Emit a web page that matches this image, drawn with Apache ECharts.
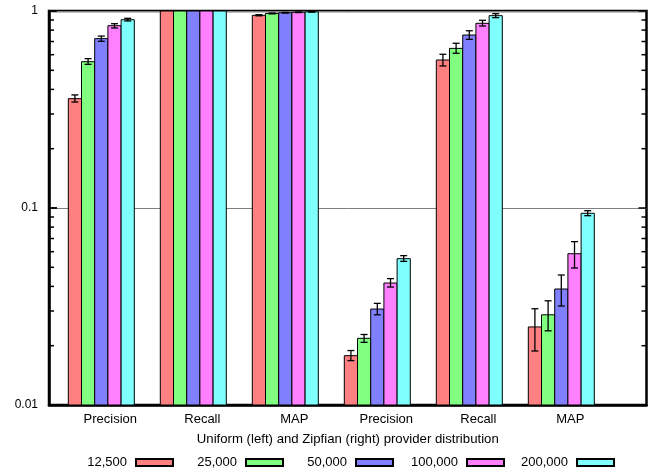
<!DOCTYPE html>
<html>
<head>
<meta charset="utf-8">
<script src="https://cdn.jsdelivr.net/npm/echarts@6/dist/echarts.min.js"></script>
<style>
  html, body { margin: 0; padding: 0; background: #fff; }
  #chart { width: 659px; height: 473px; }
</style>
</head>
<body>
<div id="chart"></div>
<script>
// Metric groups along the x axis: Uniform (left three) and Zipfian (right three)
const categories = ['Precision', 'Recall', 'MAP', 'Precision', 'Recall', 'MAP'];

// Number of providers per series
const seriesNames = ['12,500', '25,000', '50,000', '100,000', '200,000'];
const seriesColors = ['#ff8080', '#80ff80', '#8080ff', '#ff80ff', '#80ffff'];

// Mean values per group, for each series
const values12500  = [0.359, 1.0, 0.951, 0.0178, 0.564, 0.0249];
const values25000  = [0.553, 1.0, 0.972, 0.0218, 0.646, 0.0287];
const values50000  = [0.724, 1.0, 0.980, 0.0307, 0.755, 0.0388];
const values100000 = [0.842, 1.0, 0.985, 0.0416, 0.866, 0.0586];
const values200000 = [0.903, 1.0, 0.990, 0.0553, 0.947, 0.0940];

// Error bar bounds (low / high) per group, for each series
const low12500   = [0.345, 1.0, 0.945, 0.0168, 0.526, 0.0188];
const high12500  = [0.375, 1.0, 0.958, 0.0189, 0.603, 0.0308];
const low25000   = [0.536, 1.0, 0.967, 0.0208, 0.610, 0.0238];
const high25000  = [0.573, 1.0, 0.977, 0.0228, 0.686, 0.0338];
const low50000   = [0.702, 1.0, 0.976, 0.0287, 0.718, 0.0318];
const high50000  = [0.746, 1.0, 0.984, 0.0328, 0.794, 0.0457];
const low100000  = [0.820, 1.0, 0.982, 0.0397, 0.839, 0.0496];
const high100000 = [0.862, 1.0, 0.988, 0.0438, 0.897, 0.0675];
const low200000  = [0.890, 1.0, 0.987, 0.0536, 0.925, 0.0914];
const high200000 = [0.918, 1.0, 0.993, 0.0573, 0.969, 0.0969];

// Y axis tick labels; major and minor tick positions
const yTickLabels = ['0.01', '0.1', '1'];
const yMajorTicks = [0.01, 0.1, 1];
const yMinorTicks = [0.02, 0.03, 0.04, 0.05, 0.06, 0.07, 0.08, 0.09,
                     0.2, 0.3, 0.4, 0.5, 0.6, 0.7, 0.8, 0.9];

const allValues = [values12500, values25000, values50000, values100000, values200000];
const allLow = [low12500, low25000, low50000, low100000, low200000];
const allHigh = [high12500, high25000, high50000, high100000, high200000];

const Y_MIN = 0.01, Y_MAX = 1;
const X_MIN = -0.5685, X_MAX = 5.926;
const BAR_W = 0.1435;          // width of one bar in group units
const LABEL_SHIFT = 0.098;     // group label sits slightly right of the cluster centre
const CAP = 3.5;               // half width of error bar caps, px
const MINOR_LEN = 5;           // minor tick length, px
const MAJOR_LEN = 8;           // major tick length, px

function makeRenderer(k) {
  return function (params, api) {
    const g = api.value(0), v = api.value(1), lo = api.value(2), hi = api.value(3);
    const x0 = g + (k - 2.5) * BAR_W;
    const x1 = x0 + BAR_W;
    const pTop = api.coord([x0, v]);
    const pBase = api.coord([x1, Y_MIN]);
    const children = [{
      type: 'rect',
      shape: { x: pTop[0], y: pTop[1], width: pBase[0] - pTop[0], height: pBase[1] - pTop[1] },
      style: { fill: seriesColors[k], stroke: '#000', lineWidth: 1 }
    }];
    if (hi > lo) {
      const cx = (pTop[0] + pBase[0]) / 2;
      const yHi = api.coord([g, hi])[1];
      const yLo = api.coord([g, lo])[1];
      const es = { stroke: '#000', lineWidth: 1.3 };
      children.push(
        { type: 'polyline', shape: { points: [[cx, yHi], [cx, yLo]] }, style: es },
        { type: 'polyline', shape: { points: [[cx - CAP, yHi], [cx + CAP, yHi]] }, style: es },
        { type: 'polyline', shape: { points: [[cx - CAP, yLo], [cx + CAP, yLo]] }, style: es }
      );
    }
    return { type: 'group', children: children };
  };
}

const series = seriesNames.map(function (name, k) {
  return {
    name: name,
    type: 'custom',
    clip: true,
    itemStyle: { color: seriesColors[k], borderColor: '#000', borderWidth: 1 },
    encode: { x: 0, y: 1 },
    renderItem: makeRenderer(k),
    data: categories.map(function (c, i) {
      return [i, allValues[k][i], allLow[k][i], allHigh[k][i]];
    })
  };
});

// Log ticks pointing inward from the left edge of the frame
series.push({
  name: 'ticks-left',
  type: 'custom',
  silent: true,
  clip: false,
  z: 5,
  encode: { x: 0, y: 1 },
  renderItem: function (params, api) {
    const p = api.coord([X_MIN, api.value(1)]);
    return { type: 'polyline', shape: { points: [[p[0], p[1]], [p[0] + api.value(2), p[1]]] },
             style: { stroke: '#000', lineWidth: 1.5 } };
  },
  data: yMinorTicks.map(function (v) { return [0, v, MINOR_LEN]; })
    .concat(yMajorTicks.map(function (v) { return [0, v, MAJOR_LEN]; }))
});

// Log ticks pointing inward from the right edge of the frame
series.push({
  name: 'ticks-right',
  type: 'custom',
  silent: true,
  clip: false,
  z: 5,
  encode: { x: 0, y: 1 },
  renderItem: function (params, api) {
    const p = api.coord([X_MAX, api.value(1)]);
    return { type: 'polyline', shape: { points: [[p[0] - api.value(2), p[1]], [p[0], p[1]]] },
             style: { stroke: '#000', lineWidth: 1.5 } };
  },
  data: yMinorTicks.map(function (v) { return [0, v, MINOR_LEN]; })
    .concat(yMajorTicks.map(function (v) { return [0, v, MAJOR_LEN]; }))
});

// One legend block per series: label text followed by the swatch
const swatchRight = [174, 284, 394, 505, 615];
const legends = seriesNames.map(function (name, k) {
  return {
    data: [name],
    right: 659 - swatchRight[k],
    top: 456,
    padding: 0,
    align: 'right',
    icon: 'rect',
    itemWidth: 37,
    itemHeight: 7,
    selectedMode: false,
    textStyle: { fontFamily: 'Liberation Sans', fontSize: 13, color: '#000', padding: [0, 4, 0, 0] }
  };
});

const font = 'Liberation Sans';
const frameLine = { color: '#000', width: 2.5 };
const option = {
  animation: false,
  grid: {
    left: 49, right: 12.5, top: 11, bottom: 68,
    show: true, borderColor: '#000', borderWidth: 2.5
  },
  legend: legends,
  xAxis: {
    type: 'value',
    min: X_MIN,
    max: X_MAX,
    name: 'Uniform (left) and Zipfian (right) provider distribution',
    nameLocation: 'middle',
    nameGap: 28,
    nameTextStyle: { fontFamily: font, fontSize: 13.2, color: '#000' },
    axisLine: { show: true, onZero: false, lineStyle: frameLine },
    axisTick: { show: false },
    splitLine: { show: false },
    axisLabel: {
      customValues: categories.map(function (c, i) { return i + LABEL_SHIFT; }),
      formatter: function (v) { return categories[Math.round(v - LABEL_SHIFT)]; },
      fontFamily: font, fontSize: 13, color: '#000', margin: 8
    }
  },
  yAxis: {
    type: 'log',
    min: Y_MIN,
    max: Y_MAX,
    axisLine: { show: true, onZero: false, lineStyle: frameLine },
    axisTick: { show: true, inside: true, length: MAJOR_LEN, lineStyle: { color: '#000', width: 1.5 } },
    axisLabel: {
      fontFamily: font, fontSize: 12, color: '#000', margin: 11,
      formatter: function (v) {
        const idx = Math.round(Math.log10(v)) + 2;
        return yTickLabels[idx];
      }
    },
    splitLine: { show: true, lineStyle: { color: '#808080', width: 1 } }
  },
  series: series
};

const chart = echarts.init(document.getElementById('chart'));
chart.setOption(option);
</script>
</body>
</html>
